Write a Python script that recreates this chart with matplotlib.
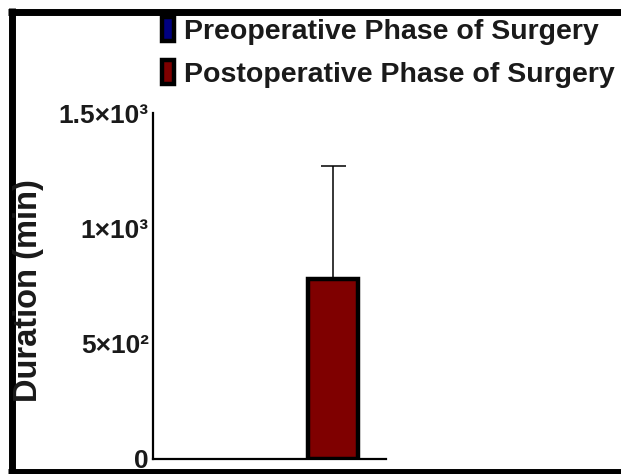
import numpy as np
import matplotlib
matplotlib.use("Agg")
import matplotlib.pyplot as plt
from matplotlib.lines import Line2D

plt.rcParams['font.family'] = ['Liberation Sans', 'DejaVu Sans']

# ---- data ----
phases = ['Preoperative Phase of Surgery', 'Postoperative Phase of Surgery']
means = [np.nan, 780]          # preoperative column has no visible bar
errors = [np.nan, 490]
colors = ['#000080', '#7F0000']
ytick_values = [0, 500, 1000, 1500]
ytick_labels = ['0', '5×10²', '1×10³', '1.5×10³']
ylabel = 'Duration (min)'

W, H = 621, 474
fig = plt.figure(figsize=(W / 100, H / 100), dpi=100)
ax = fig.add_axes([153 / W, 15 / H, (386 - 153) / W, (459 - 113) / H])

x = np.arange(len(phases))
bars = ax.bar(x, means, width=0.4, color=colors, edgecolor='black',
              linewidth=3.2, zorder=2)
ax.errorbar(x, means, yerr=[np.zeros(len(x)), errors], fmt='none',
            ecolor='black', elinewidth=1.1, capsize=9, capthick=1.1, zorder=1)

ax.set_xlim(-0.44, 1.424)
ax.set_ylim(0, 1500)
ax.set_xticks([])
ax.set_yticks(ytick_values)
ax.set_yticklabels(ytick_labels, fontsize=19, fontweight='bold', color='#1a1a1a')
ax.tick_params(axis='y', length=0, pad=3)
for s in ['top', 'right']:
    ax.spines[s].set_visible(False)
for s in ['left', 'bottom']:
    ax.spines[s].set_linewidth(1.6)

fig.text(29 / W, 1 - 291 / H, ylabel, rotation=90, ha='center', va='center',
         fontsize=23.5, fontweight='bold', color='#1a1a1a')

leg = fig.legend(handles=bars.patches, labels=phases, loc='upper left',
                 bbox_to_anchor=(162 / W, 1 - 17 / H), frameon=False,
                 borderpad=0, borderaxespad=0, handlelength=0.43,
                 handleheight=0.92, handletextpad=0.33, labelspacing=0.55,
                 prop={'size': 20.5, 'weight': 'bold'})
for t in leg.get_texts():
    t.set_color('#1a1a1a')

# outer black frame
fig.add_artist(Line2D([8 / W, 1], [1 - 11.5 / H, 1 - 11.5 / H], color='black',
                      linewidth=5, transform=fig.transFigure, solid_capstyle='butt'))
fig.add_artist(Line2D([11.5 / W, 11.5 / W], [1 - 8 / H, 0], color='black',
                      linewidth=5, transform=fig.transFigure, solid_capstyle='butt'))
fig.add_artist(Line2D([8 / W, 1], [1 - 472 / H, 1 - 472 / H], color='black',
                      linewidth=5, transform=fig.transFigure, solid_capstyle='butt'))

fig.savefig('out.png', dpi=100)
